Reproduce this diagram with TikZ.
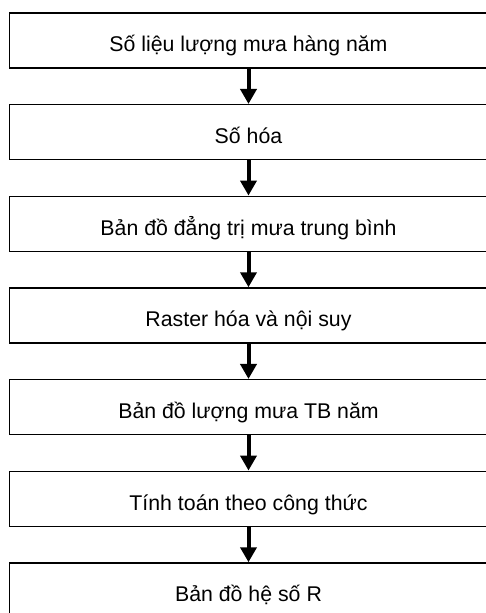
\documentclass[tikz,border=0pt]{standalone}
\usepackage{fontspec}
\setmainfont{Liberation Sans}
\usetikzlibrary{arrows.meta}
\tikzset{
  stepbox/.style={draw=black, line width=1.5pt, minimum width=478pt, minimum height=55pt,
    inner sep=0pt, text height=22.4pt, text depth=0pt, font=\fontsize{21.3pt}{24pt}\selectfont},
  flowarrow/.style={line width=4pt, -{Triangle[width=16pt,length=15pt]}}
}
\begin{document}
\begin{tikzpicture}[x=1pt,y=-1pt]
  \useasboundingbox (0,0) rectangle (486,613);
  \clip (0,0) rectangle (486,613);
  \node[stepbox] (b1) at (248.5, 40.5) {Số liệu lượng mưa hàng năm};
  \node[stepbox] (b2) at (248.5, 132.2) {Số hóa};
  \node[stepbox] (b3) at (248.5, 223.8) {Bản đồ đẳng trị mưa trung bình};
  \node[stepbox] (b4) at (248.5, 315.5) {Raster hóa và nội suy};
  \node[stepbox] (b5) at (248.5, 407.2) {Bản đồ lượng mưa TB năm};
  \node[stepbox] (b6) at (248.5, 498.8) {Tính toán theo công thức};
  \node[stepbox] (b7) at (248.5, 590.5) {Bản đồ hệ số R};
  \foreach \a/\b in {b1/b2,b2/b3,b3/b4,b4/b5,b5/b6,b6/b7}
    \draw[flowarrow] (\a.south) -- (\b.north);
\end{tikzpicture}
\end{document}
